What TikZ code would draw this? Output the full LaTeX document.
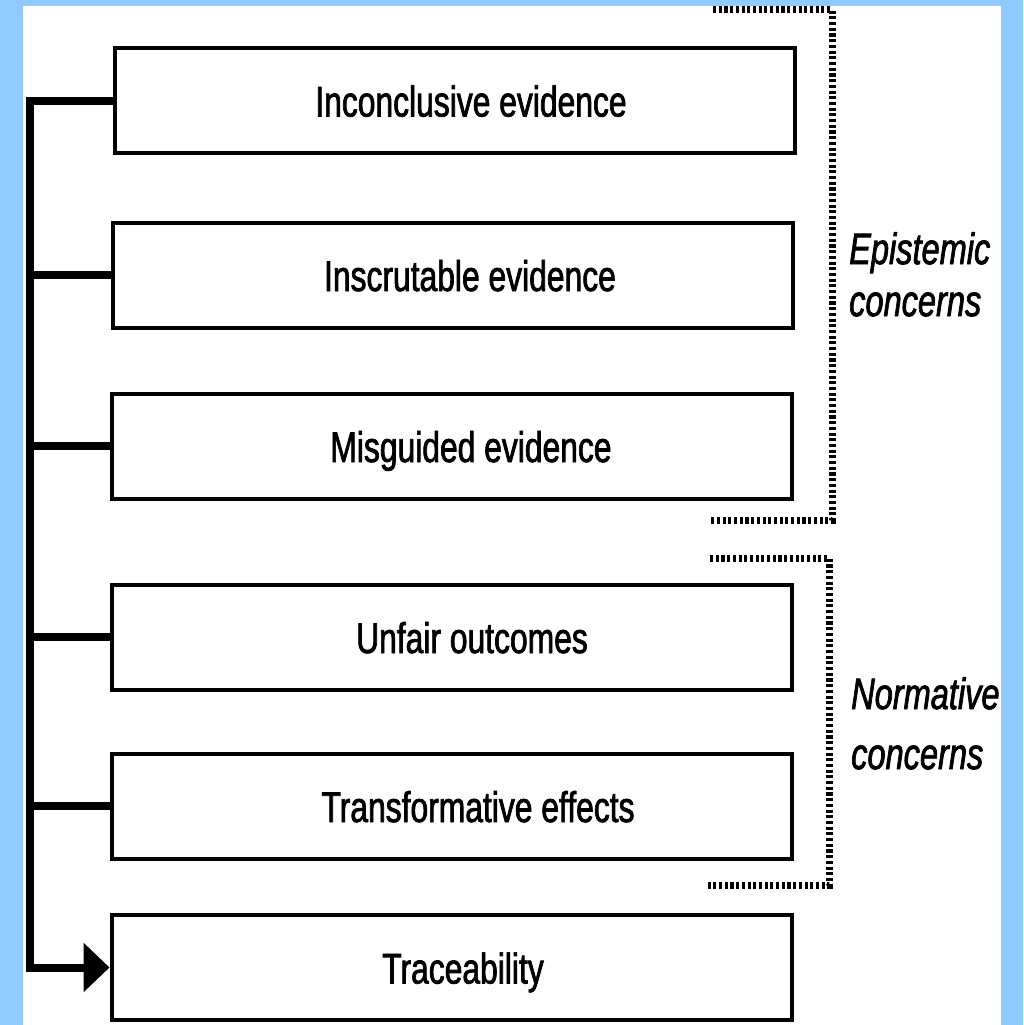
\documentclass[tikz,border=0pt]{standalone}
\usepackage{fontspec}
\setmainfont{Liberation Sans}[FakeStretch=0.74,FakeBold=1.6]
\usetikzlibrary{arrows.meta}
\definecolor{skyback}{HTML}{8FCBFF}
\tikzset{
  concern/.style={draw, line width=4pt, minimum width=680pt, minimum height=105pt, inner sep=0pt},
  boxtext/.style={font=\fontsize{43}{50}\selectfont, inner sep=0pt, anchor=base},
  trunk/.style={line width=8pt},
  bracket/.style={line width=7pt, dash pattern=on 3.1pt off 2.6pt},
  group/.style={align=left, inner sep=0pt, anchor=north west}
}

\begin{document}
\begin{tikzpicture}[x=1pt,y=-1pt]
\fill[skyback] (0,0) rectangle (1023,1025);
\fill[white] (23,6) rectangle (1001,1025);
\useasboundingbox (0,0) rectangle (1023,1025);

% the six boxes
\node[concern] (b1) at (455,100.5) {};
\node[concern] (b2) at (452.5,275) {};
\node[concern] (b3) at (451.5,446) {};
\node[concern] (b4) at (451.5,637) {};
\node[concern] (b5) at (451.5,806) {};
\node[concern] (b6) at (451.5,967.5) {};

\node[boxtext] (t1) at ([xshift=16pt,yshift=-16pt]b1.center) {Inconclusive evidence};
\node[boxtext] (t2) at ([xshift=17.5pt,yshift=-16pt]b2.center) {Inscrutable evidence};
\node[boxtext] (t3) at ([xshift=19.5pt,yshift=-16pt]b3.center) {Misguided evidence};
\node[boxtext] (t4) at ([xshift=20.5pt,yshift=-16pt]b4.center) {Unfair outcomes};
\node[boxtext] (t5) at ([xshift=26.5pt,yshift=-16pt]b5.center) {Transformative effects};
\node[boxtext] (t6) at ([xshift=11.5pt,yshift=-16pt]b6.center) {Traceability};

% trunk on the left
\coordinate (trunkx) at (30,0);
\draw[trunk, -{Triangle[length=26pt,width=48pt]}] (b1.west) -- (b1.west -| trunkx) -- (b6.west -| trunkx) -- (b6.west);
\foreach \b in {b2,b3,b4,b5}
  \draw[trunk] (\b.west) -- (\b.west -| trunkx);

% dotted brackets
\coordinate (e1) at (713,10);
\coordinate (e2) at (832,10);
\coordinate (e3) at (832,520);
\coordinate (e4) at (710,520);
\draw[bracket] (e1) -- (e2) -- (e3) -- (e4);
\coordinate (n1) at (710,558);
\coordinate (n2) at (829,558);
\coordinate (n3) at (829,885);
\coordinate (n4) at (706,885);
\draw[bracket] (n1) -- (n2) -- (n3) -- (n4);

\node[group, font=\fontsize{44}{52}\selectfont\itshape] (epi) at (849,232) {Epistemic\\concerns};
\node[group, font=\fontsize{44}{60}\selectfont\itshape] (norm) at (851,677) {Normative\\concerns};
\end{tikzpicture}
\end{document}
